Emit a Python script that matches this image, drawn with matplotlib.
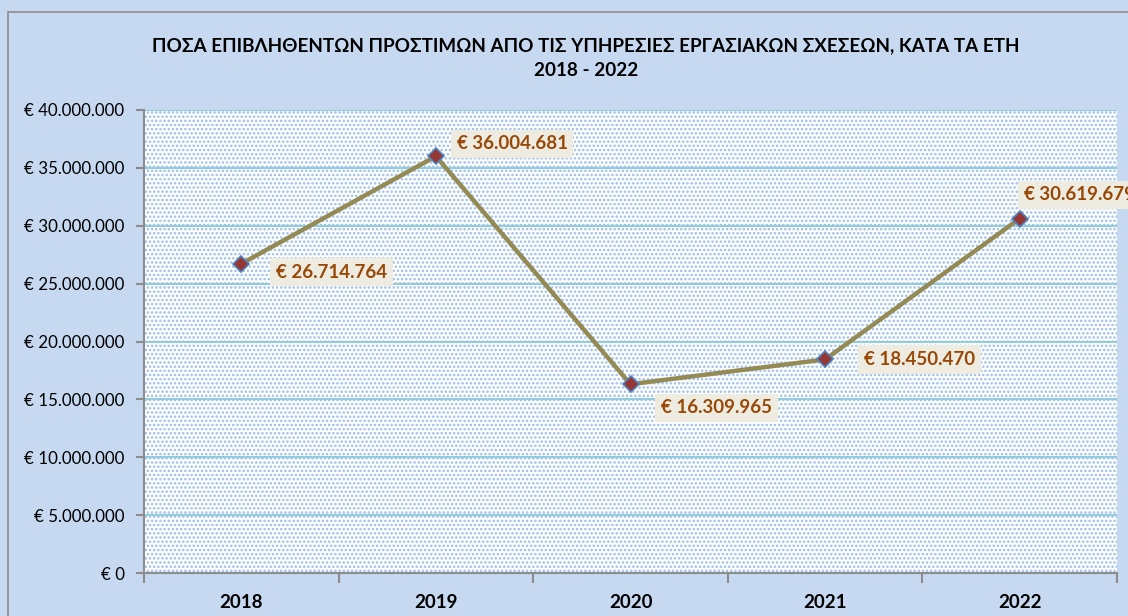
import matplotlib
matplotlib.use("Agg")
import matplotlib.pyplot as plt
from matplotlib.patches import Rectangle
from matplotlib.ticker import FuncFormatter, MultipleLocator, FixedLocator

years = ["2018", "2019", "2020", "2021", "2022"]
values = [26714764, 36004681, 16309965, 18450470, 30619679]
label_offsets_pt = [(65, -6), (55, 9), (62, -17), (68, 0), (43, 17)]
title = "ΠΟΣΑ ΕΠΙΒΛΗΘΕΝΤΩΝ ΠΡΟΣΤΙΜΩΝ ΑΠΟ ΤΙΣ ΥΠΗΡΕΣΙΕΣ ΕΡΓΑΣΙΑΚΩΝ ΣΧΕΣΕΩΝ, ΚΑΤΑ ΤΑ ΕΤΗ\n2018 - 2022"

def euro(v):
    return "€ " + f"{int(round(v)):,}".replace(",", ".")

plt.rcParams['font.family'] = ['Lato', 'DejaVu Sans']
plt.rcParams['hatch.linewidth'] = 1.2

W, H = 1128, 616
fig = plt.figure(figsize=(W / 100, H / 100), dpi=100)
fig.patch.set_facecolor("#C6D9F1")

# outer chart border
fig.add_artist(Rectangle((8 / W, -0.1), 1.2, (616 - 12) / H + 0.1, transform=fig.transFigure,
                         fill=False, edgecolor="#8C8C8C", linewidth=1.2))

ax = fig.add_axes([144 / W, (H - 573) / H, (1117 - 144) / W, (573 - 110) / H])
ax.set_facecolor("white")
ax.add_patch(Rectangle((0, 0), 1, 1, transform=ax.transAxes, facecolor="white",
                       hatch="....", edgecolor="#98BCEB", linewidth=0, zorder=0))

x = list(range(len(years)))
ax.set_xlim(-0.5, len(years) - 0.5)
ax.set_ylim(0, 40000000)
ax.yaxis.set_major_locator(MultipleLocator(5000000))
ax.yaxis.set_major_formatter(FuncFormatter(lambda v, p: euro(v)))
ax.grid(axis="y", color="#93CDDD", linewidth=1.5, zorder=1)
ax.set_axisbelow(True)

ax.set_xticks(x)
ax.set_xticklabels(years, fontsize=13.5, fontweight="bold")
ax.tick_params(axis="x", which="major", length=0, pad=15)
ax.xaxis.set_minor_locator(FixedLocator([i + 0.5 for i in range(-1, len(years))]))
ax.tick_params(axis="x", which="minor", length=7, width=1.5, color="#8C8C8C")
ax.tick_params(axis="y", length=6, width=1.5, color="#8C8C8C", labelsize=12.2, pad=8)

for side in ["top", "right"]:
    ax.spines[side].set_visible(False)
for side in ["left", "bottom"]:
    ax.spines[side].set_color("#8C8C8C")
    ax.spines[side].set_linewidth(1.5)

ax.plot(x, values, color="#948A54", linewidth=3.2, zorder=3,
        marker="D", markersize=8, markerfacecolor="#953735",
        markeredgecolor="#4F81BD", markeredgewidth=1.2)

for xi, v, off in zip(x, values, label_offsets_pt):
    ax.annotate(euro(v), (xi, v), xytext=off, textcoords="offset points",
                ha="center", va="center", fontsize=13.5, fontweight="bold",
                color="#984807", annotation_clip=False, zorder=5,
                bbox=dict(boxstyle="square,pad=0.3", facecolor="#EEECE1", edgecolor="none"))

fig.text(586 / W, 1 - 58 / H, title, ha="center", va="center", fontsize=13.6,
         fontweight="bold", linespacing=1.6)

fig.savefig("out.png", dpi=100, facecolor=fig.get_facecolor())
